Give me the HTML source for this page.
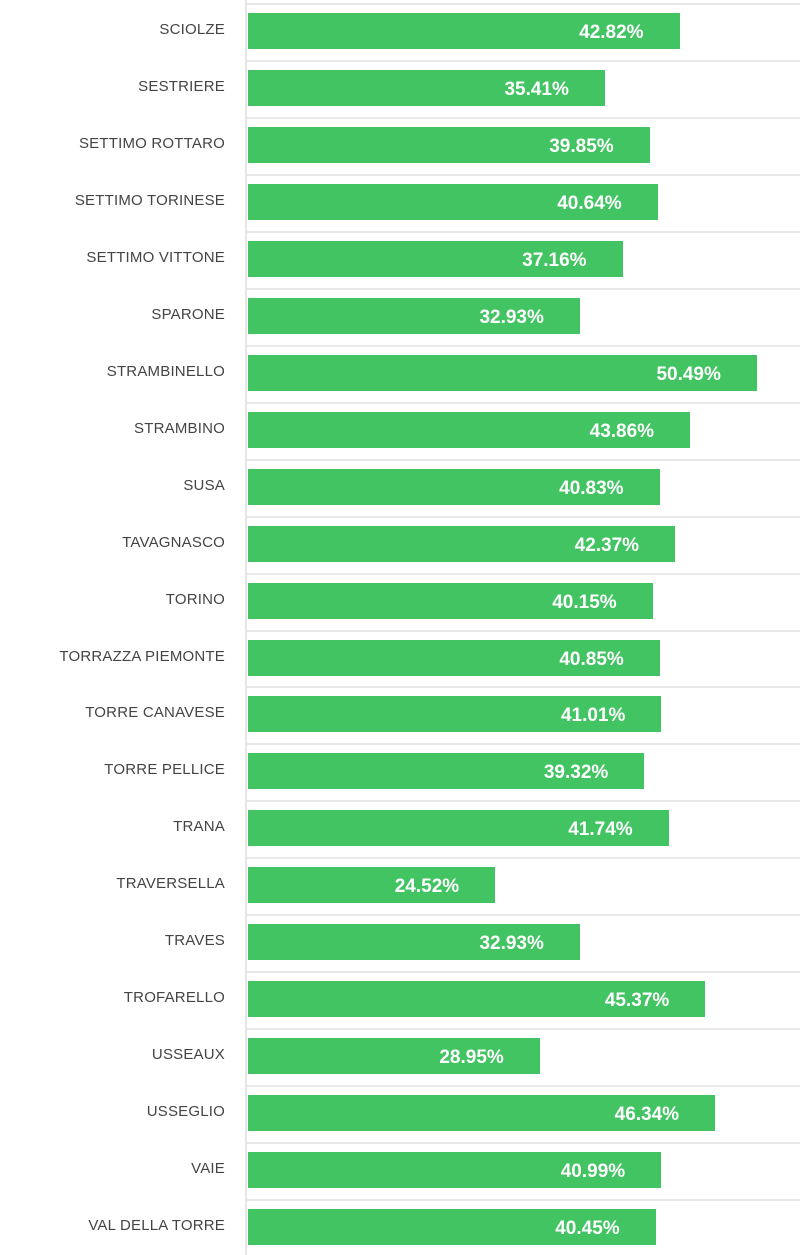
<!DOCTYPE html>
<html><head><meta charset="utf-8"><style>
body{margin:0;width:800px;height:1255px;background:#fff;position:relative;overflow:hidden;font-family:"Liberation Sans",Arial,sans-serif}
.ax{position:absolute;left:245px;top:0;width:2px;height:1255px;background:#e6e6e6}
.g{position:absolute;left:247px;right:0;height:2px;background:#e8e8e8}
.l{position:absolute;right:575px;font-size:15px;letter-spacing:0.2px;color:#444;white-space:nowrap;line-height:36px}
.b{position:absolute;left:248px;height:36px;background:#42c463}
.v{position:absolute;right:36px;top:0;line-height:40px;font-size:19px;font-weight:bold;color:#fff;white-space:nowrap}
</style></head><body>
<div class="ax"></div>
<div id="c"></div>
<script>
var d=[["SCIOLZE",42.82],["SESTRIERE",35.41],["SETTIMO ROTTARO",39.85],["SETTIMO TORINESE",40.64],["SETTIMO VITTONE",37.16],["SPARONE",32.93],["STRAMBINELLO",50.49],["STRAMBINO",43.86],["SUSA",40.83],["TAVAGNASCO",42.37],["TORINO",40.15],["TORRAZZA PIEMONTE",40.85],["TORRE CANAVESE",41.01],["TORRE PELLICE",39.32],["TRANA",41.74],["TRAVERSELLA",24.52],["TRAVES",32.93],["TROFARELLO",45.37],["USSEAUX",28.95],["USSEGLIO",46.34],["VAIE",40.99],["VAL DELLA TORRE",40.45]];
var h="";
d.forEach(function(r,i){var y=3+56.95*i;
h+='<div class="g" style="top:'+y.toFixed(1)+'px"></div>';
h+='<div class="l" style="top:'+(y+9).toFixed(1)+'px">'+r[0]+'</div>';
h+='<div class="b" style="top:'+(y+10).toFixed(1)+'px;width:'+(r[1]*10.08).toFixed(1)+'px"><span class="v">'+r[1].toFixed(2)+'%</span></div>';});
document.getElementById("c").innerHTML=h;
</script>
</body></html>
